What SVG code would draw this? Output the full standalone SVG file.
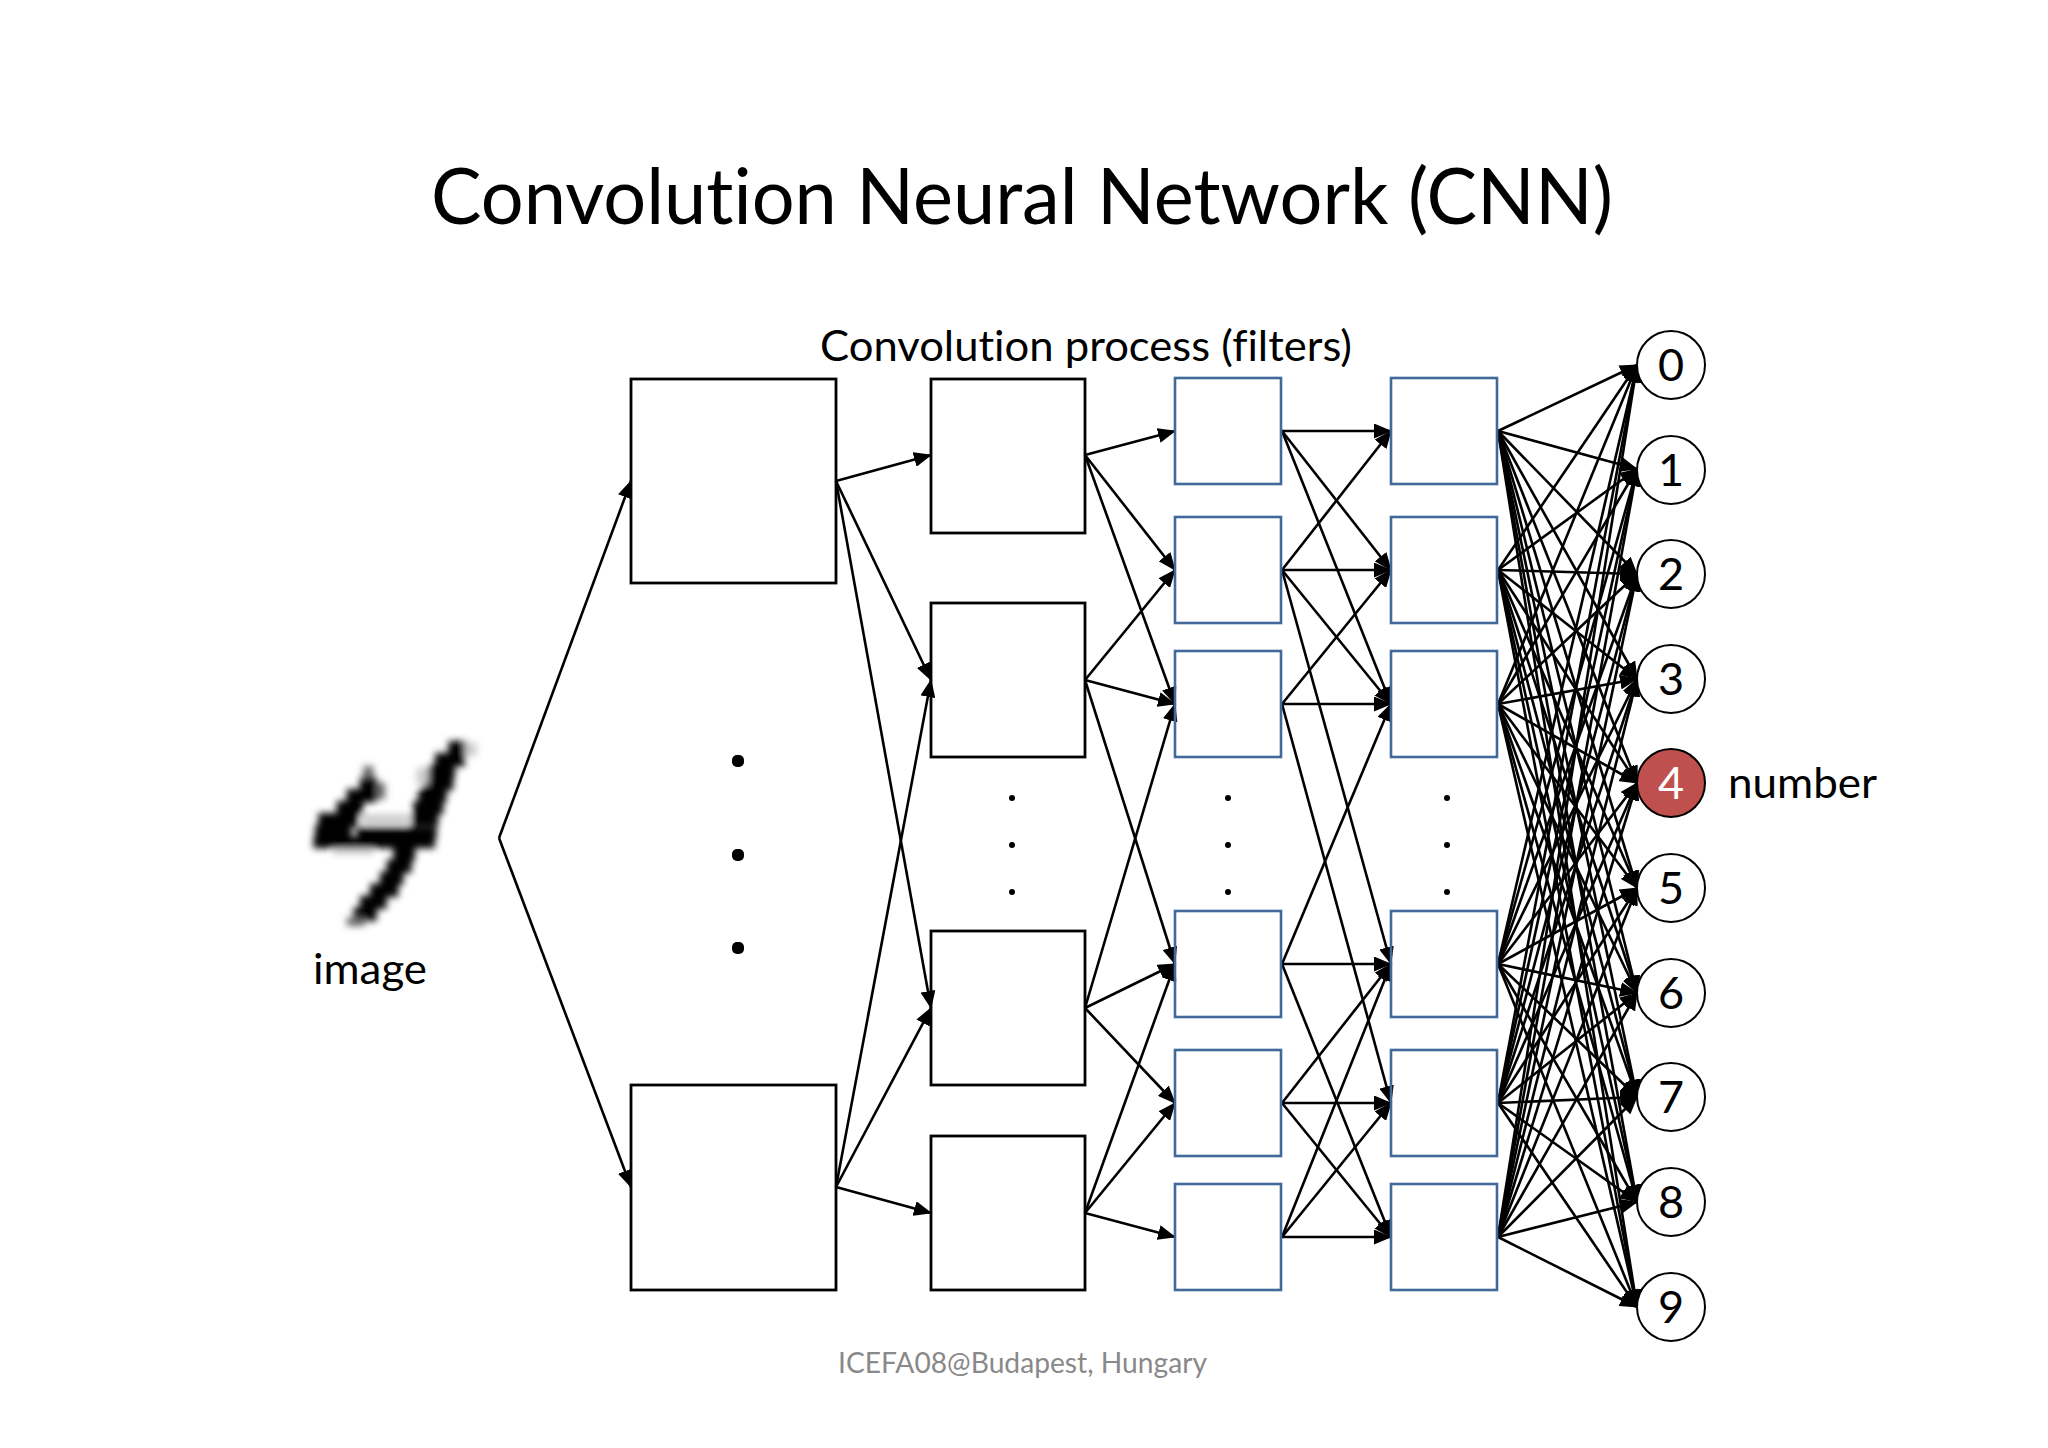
<svg xmlns="http://www.w3.org/2000/svg" width="2048" height="1448" viewBox="0 0 2048 1448">
<style>
text{font-family:Lato,"Liberation Sans",sans-serif;fill:#000;font-variant-ligatures:none}
.lab{font-size:42px}
.num{font-size:45px;text-anchor:middle}
.k{fill:none;stroke:#000;stroke-width:2.8}
.b{fill:none;stroke:#41699a;stroke-width:2.6}
.c{fill:#fff;stroke:#000;stroke-width:2}
#connectors line{stroke:#000;stroke-width:2.6;fill:none;marker-end:url(#a)}
</style>
<defs>
<marker id="a" markerUnits="userSpaceOnUse" markerWidth="18" markerHeight="15" viewBox="0 0 18 15" refX="17" refY="7.5" orient="auto"><path d="M0 0L18 7.5L0 15Z" fill="#000"/></marker>
<filter id="bl" x="-20%" y="-20%" width="140%" height="140%"><feGaussianBlur stdDeviation="11"/></filter>
</defs>
<rect width="2048" height="1448" fill="#fff"/>
<g transform="translate(0 1)">
<text x="431" y="223" font-size="78" textLength="1182" lengthAdjust="spacingAndGlyphs">Convolution Neural Network (CNN)</text>
<text class="lab" x="820" y="360" textLength="532" lengthAdjust="spacingAndGlyphs">Convolution process (filters)</text>
<text class="lab" x="313" y="983" textLength="114" lengthAdjust="spacingAndGlyphs">image</text>
<text class="lab" x="1728" y="797" textLength="149" lengthAdjust="spacingAndGlyphs">number</text>
<text x="838" y="1372" font-size="28" textLength="369" lengthAdjust="spacingAndGlyphs" style="fill:#898989">ICEFA08@Budapest, Hungary</text>
<g id="digit" transform="translate(280 700) scale(.3333)" filter="url(#bl)">
<g fill="#000">
<rect x="505" y="120" width="55" height="40"/><rect x="465" y="156" width="90" height="40"/><rect x="445" y="192" width="80" height="40"/><rect x="430" y="228" width="90" height="40"/><rect x="415" y="264" width="85" height="40"/><rect x="400" y="300" width="90" height="40"/>
<rect x="240" y="228" width="50" height="40"/><rect x="200" y="264" width="90" height="40"/><rect x="170" y="300" width="80" height="40"/>
<rect x="115" y="336" width="120" height="40"/><rect x="395" y="336" width="80" height="40"/><rect x="105" y="372" width="110" height="40"/><rect x="230" y="378" width="240" height="34"/><rect x="100" y="408" width="365" height="34"/>
<rect x="340" y="440" width="65" height="40"/><rect x="320" y="476" width="75" height="40"/><rect x="300" y="512" width="70" height="40"/><rect x="270" y="548" width="85" height="40"/><rect x="240" y="584" width="80" height="40"/><rect x="220" y="620" width="70" height="40"/>
</g>
<g fill="#666">
<rect x="250" y="195" width="30" height="35"/><rect x="290" y="245" width="25" height="50"/><rect x="200" y="650" width="55" height="25"/>
</g>
<g fill="#ccc">
<rect x="555" y="125" width="35" height="40"/><rect x="410" y="200" width="35" height="50"/><rect x="245" y="340" width="145" height="30"/><rect x="160" y="445" width="120" height="15"/>
</g>
</g>
<g id="connectors">
<line x1="499" y1="837" x2="631" y2="480"/><line x1="499" y1="837" x2="631" y2="1186"/>
<line x1="836" y1="480" x2="931" y2="454"/><line x1="836" y1="480" x2="931" y2="679"/><line x1="836" y1="480" x2="931" y2="1007"/>
<line x1="836" y1="1186" x2="931" y2="679"/><line x1="836" y1="1186" x2="931" y2="1007"/><line x1="836" y1="1186" x2="931" y2="1212"/>
<line x1="1085" y1="454" x2="1175" y2="430"/><line x1="1085" y1="454" x2="1175" y2="569"/><line x1="1085" y1="454" x2="1175" y2="703"/>
<line x1="1085" y1="679" x2="1175" y2="569"/><line x1="1085" y1="679" x2="1175" y2="703"/><line x1="1085" y1="679" x2="1175" y2="963"/>
<line x1="1085" y1="1007" x2="1175" y2="703"/><line x1="1085" y1="1007" x2="1175" y2="963"/><line x1="1085" y1="1007" x2="1175" y2="1102"/>
<line x1="1085" y1="1212" x2="1175" y2="963"/><line x1="1085" y1="1212" x2="1175" y2="1102"/><line x1="1085" y1="1212" x2="1175" y2="1236"/>
<line x1="1282" y1="430" x2="1391" y2="430"/><line x1="1282" y1="430" x2="1391" y2="569"/><line x1="1282" y1="430" x2="1391" y2="703"/>
<line x1="1282" y1="569" x2="1391" y2="430"/><line x1="1282" y1="569" x2="1391" y2="569"/><line x1="1282" y1="569" x2="1391" y2="703"/><line x1="1282" y1="569" x2="1391" y2="963"/>
<line x1="1282" y1="703" x2="1391" y2="569"/><line x1="1282" y1="703" x2="1391" y2="703"/><line x1="1282" y1="703" x2="1391" y2="1102"/>
<line x1="1282" y1="963" x2="1391" y2="703"/><line x1="1282" y1="963" x2="1391" y2="963"/><line x1="1282" y1="963" x2="1391" y2="1236"/>
<line x1="1282" y1="1102" x2="1391" y2="963"/><line x1="1282" y1="1102" x2="1391" y2="1102"/><line x1="1282" y1="1102" x2="1391" y2="1236"/>
<line x1="1282" y1="1236" x2="1391" y2="963"/><line x1="1282" y1="1236" x2="1391" y2="1102"/><line x1="1282" y1="1236" x2="1391" y2="1236"/>
<line x1="1498" y1="430" x2="1637" y2="364"/><line x1="1498" y1="430" x2="1637" y2="468"/><line x1="1498" y1="430" x2="1637" y2="573"/><line x1="1498" y1="430" x2="1637" y2="678"/><line x1="1498" y1="430" x2="1637" y2="782"/><line x1="1498" y1="430" x2="1637" y2="887"/><line x1="1498" y1="430" x2="1637" y2="992"/><line x1="1498" y1="430" x2="1637" y2="1096"/><line x1="1498" y1="430" x2="1637" y2="1201"/><line x1="1498" y1="430" x2="1637" y2="1306"/>
<line x1="1498" y1="569" x2="1637" y2="364"/><line x1="1498" y1="569" x2="1637" y2="468"/><line x1="1498" y1="569" x2="1637" y2="573"/><line x1="1498" y1="569" x2="1637" y2="678"/><line x1="1498" y1="569" x2="1637" y2="782"/><line x1="1498" y1="569" x2="1637" y2="887"/><line x1="1498" y1="569" x2="1637" y2="992"/><line x1="1498" y1="569" x2="1637" y2="1096"/><line x1="1498" y1="569" x2="1637" y2="1201"/><line x1="1498" y1="569" x2="1637" y2="1306"/>
<line x1="1498" y1="703" x2="1637" y2="364"/><line x1="1498" y1="703" x2="1637" y2="468"/><line x1="1498" y1="703" x2="1637" y2="573"/><line x1="1498" y1="703" x2="1637" y2="678"/><line x1="1498" y1="703" x2="1637" y2="782"/><line x1="1498" y1="703" x2="1637" y2="887"/><line x1="1498" y1="703" x2="1637" y2="992"/><line x1="1498" y1="703" x2="1637" y2="1096"/><line x1="1498" y1="703" x2="1637" y2="1201"/><line x1="1498" y1="703" x2="1637" y2="1306"/>
<line x1="1498" y1="963" x2="1637" y2="364"/><line x1="1498" y1="963" x2="1637" y2="468"/><line x1="1498" y1="963" x2="1637" y2="573"/><line x1="1498" y1="963" x2="1637" y2="678"/><line x1="1498" y1="963" x2="1637" y2="782"/><line x1="1498" y1="963" x2="1637" y2="887"/><line x1="1498" y1="963" x2="1637" y2="992"/><line x1="1498" y1="963" x2="1637" y2="1096"/><line x1="1498" y1="963" x2="1637" y2="1201"/><line x1="1498" y1="963" x2="1637" y2="1306"/>
<line x1="1498" y1="1102" x2="1637" y2="364"/><line x1="1498" y1="1102" x2="1637" y2="468"/><line x1="1498" y1="1102" x2="1637" y2="573"/><line x1="1498" y1="1102" x2="1637" y2="678"/><line x1="1498" y1="1102" x2="1637" y2="782"/><line x1="1498" y1="1102" x2="1637" y2="887"/><line x1="1498" y1="1102" x2="1637" y2="992"/><line x1="1498" y1="1102" x2="1637" y2="1096"/><line x1="1498" y1="1102" x2="1637" y2="1201"/><line x1="1498" y1="1102" x2="1637" y2="1306"/>
<line x1="1498" y1="1236" x2="1637" y2="364"/><line x1="1498" y1="1236" x2="1637" y2="468"/><line x1="1498" y1="1236" x2="1637" y2="573"/><line x1="1498" y1="1236" x2="1637" y2="678"/><line x1="1498" y1="1236" x2="1637" y2="782"/><line x1="1498" y1="1236" x2="1637" y2="887"/><line x1="1498" y1="1236" x2="1637" y2="992"/><line x1="1498" y1="1236" x2="1637" y2="1096"/><line x1="1498" y1="1236" x2="1637" y2="1201"/><line x1="1498" y1="1236" x2="1637" y2="1306"/>
</g>
<g id="big-1"><rect class="k" x="631" y="378" width="205" height="204"/></g>
<g id="big-2"><rect class="k" x="631" y="1084" width="205" height="205"/></g>
<g id="dots-big" fill="#000"><rect x="732" y="754" width="12" height="12" rx="5"/><rect x="732" y="848" width="12" height="12" rx="5"/><rect x="732" y="941" width="12" height="12" rx="5"/></g>
<g id="f1"><rect class="k" x="931" y="378" width="154" height="154"/></g>
<g id="f2"><rect class="k" x="931" y="602" width="154" height="154"/></g>
<g id="f3"><rect class="k" x="931" y="930" width="154" height="154"/></g>
<g id="f4"><rect class="k" x="931" y="1135" width="154" height="154"/></g>
<g id="dots" fill="#000"><circle cx="1012" cy="797" r="3"/><circle cx="1012" cy="844" r="3"/><circle cx="1012" cy="891" r="3"/><circle cx="1228" cy="797" r="3"/><circle cx="1228" cy="844" r="3"/><circle cx="1228" cy="891" r="3"/><circle cx="1447" cy="797" r="3"/><circle cx="1447" cy="844" r="3"/><circle cx="1447" cy="891" r="3"/></g>
<g id="c1"><rect class="b" x="1175" y="377" width="106" height="106"/></g>
<g id="c2"><rect class="b" x="1175" y="516" width="106" height="106"/></g>
<g id="c3"><rect class="b" x="1175" y="650" width="106" height="106"/></g>
<g id="c4"><rect class="b" x="1175" y="910" width="106" height="106"/></g>
<g id="c5"><rect class="b" x="1175" y="1049" width="106" height="106"/></g>
<g id="c6"><rect class="b" x="1175" y="1183" width="106" height="106"/></g>
<g id="d1"><rect class="b" x="1391" y="377" width="106" height="106"/></g>
<g id="d2"><rect class="b" x="1391" y="516" width="106" height="106"/></g>
<g id="d3"><rect class="b" x="1391" y="650" width="106" height="106"/></g>
<g id="d4"><rect class="b" x="1391" y="910" width="106" height="106"/></g>
<g id="d5"><rect class="b" x="1391" y="1049" width="106" height="106"/></g>
<g id="d6"><rect class="b" x="1391" y="1183" width="106" height="106"/></g>
<g id="n0"><circle class="c" cx="1671" cy="364" r="34"/><text class="num" x="1671" y="380">0</text></g>
<g id="n1"><circle class="c" cx="1671" cy="469" r="34"/><text class="num" x="1671" y="485">1</text></g>
<g id="n2"><circle class="c" cx="1671" cy="573" r="34"/><text class="num" x="1671" y="589">2</text></g>
<g id="n3"><circle class="c" cx="1671" cy="678" r="34"/><text class="num" x="1671" y="694">3</text></g>
<g id="n4"><circle class="c" cx="1671" cy="782" r="34" style="fill:#c0504d"/><text class="num" x="1671" y="798" style="fill:#fff">4</text></g>
<g id="n5"><circle class="c" cx="1671" cy="887" r="34"/><text class="num" x="1671" y="903">5</text></g>
<g id="n6"><circle class="c" cx="1671" cy="992" r="34"/><text class="num" x="1671" y="1008">6</text></g>
<g id="n7"><circle class="c" cx="1671" cy="1096" r="34"/><text class="num" x="1671" y="1112">7</text></g>
<g id="n8"><circle class="c" cx="1671" cy="1201" r="34"/><text class="num" x="1671" y="1217">8</text></g>
<g id="n9"><circle class="c" cx="1671" cy="1306" r="34"/><text class="num" x="1671" y="1322">9</text></g>
</g>
</svg>
